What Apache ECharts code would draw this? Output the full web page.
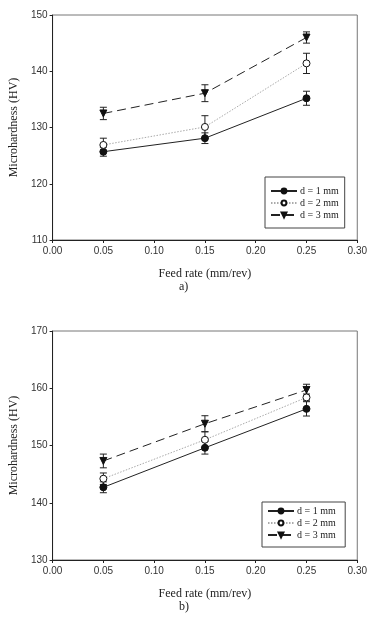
<!DOCTYPE html>
<html>
<head>
<meta charset="utf-8">
<script src="https://cdn.jsdelivr.net/npm/echarts@6/dist/echarts.min.js"></script>
<style>
html,body{margin:0;padding:0;background:#fff;}
#c{width:370px;height:618px;}
</style>
</head>
<body>
<div id="c"></div>
<script>
// ---- data ----
var feedRate = [0.05, 0.15, 0.25];
var seriesNames = ['d = 1 mm', 'd = 2 mm', 'd = 3 mm'];
var xTicks = [0.00, 0.05, 0.10, 0.15, 0.20, 0.25, 0.30];

// chart a)
var a_d1 = [125.7, 128.1, 135.2];
var a_d1_err = [0.8, 0.95, 1.25];
var a_d2 = [126.9, 130.1, 141.4];
var a_d2_err = [1.2, 2.0, 1.8];
var a_d3 = [132.5, 136.1, 146.0];
var a_d3_err = [1.1, 1.5, 1.0];
var a_yTicks = [110, 120, 130, 140, 150];

// chart b)
var b_d1 = [142.7, 149.6, 156.4];
var b_d1_err = [0.95, 1.1, 1.25];
var b_d2 = [144.2, 151.0, 158.4];
var b_d2_err = [1.0, 1.4, 0.6];
var b_d3 = [147.3, 153.8, 159.7];
var b_d3_err = [1.2, 1.4, 1.0];
var b_yTicks = [130, 140, 150, 160, 170];

var panelLabels = ['a)', 'b)'];
var xTitle = 'Feed rate (mm/rev)';
var yTitle = 'Microhardness (HV)';

// ---- styles ----
var serif = "'Liberation Serif', 'DejaVu Serif', serif";
var sans = "'Liberation Sans', Arial, sans-serif";
var styles = [
  {line: {type: 'solid', width: 1, color: '#222'}, symbol: 'circle', fill: '#111', rotate: 0, size: 7},
  {line: {type: [1.5, 1.5], width: 1, color: '#aaa'}, symbol: 'circle', fill: '#fff', rotate: 0, size: 7},
  {line: {type: [9, 5], width: 1, color: '#222'}, symbol: 'triangle', fill: '#111', rotate: 180, size: 7}
];

function pairs(vals) {
  return feedRate.map(function (x, i) { return [x, vals[i]]; });
}
function errData(vals, errs) {
  return feedRate.map(function (x, i) { return [x, vals[i] - errs[i], vals[i] + errs[i]]; });
}
function errRender(params, api) {
  var x = api.value(0);
  var lo = api.coord([x, api.value(1)]);
  var hi = api.coord([x, api.value(2)]);
  var w = 3.5;
  var st = {stroke: '#222', lineWidth: 1};
  return {
    type: 'group',
    children: [
      {type: 'line', shape: {x1: lo[0], y1: lo[1], x2: hi[0], y2: hi[1]}, style: st},
      {type: 'line', shape: {x1: lo[0] - w, y1: lo[1], x2: lo[0] + w, y2: lo[1]}, style: st},
      {type: 'line', shape: {x1: hi[0] - w, y1: hi[1], x2: hi[0] + w, y2: hi[1]}, style: st}
    ]
  };
}

var grids = [
  {left: 49, top: 15, width: 311, height: 225},
  {left: 49, top: 331, width: 311, height: 229}
];
var yTickSets = [a_yTicks, b_yTicks];
var panelData = [
  [[a_d1, a_d1_err], [a_d2, a_d2_err], [a_d3, a_d3_err]],
  [[b_d1, b_d1_err], [b_d2, b_d2_err], [b_d3, b_d3_err]]
];

var option = {
  backgroundColor: '#fff',
  animation: false,
  grid: grids.map(function (g) {
    return Object.assign({show: true, borderColor: '#777', borderWidth: 1, backgroundColor: 'transparent'}, g);
  }),
  xAxis: grids.map(function (g, k) {
    return {
      type: 'value', gridIndex: k,
      min: xTicks[0], max: xTicks[xTicks.length - 1], interval: 0.05,
      name: xTitle, nameLocation: 'middle', nameGap: 28,
      nameTextStyle: {fontFamily: serif, fontSize: 12, color: '#222'},
      axisLine: {show: true, lineStyle: {color: '#222', width: 1}},
      axisTick: {show: true, length: 3, inside: false, lineStyle: {color: '#222'}},
      axisLabel: {fontFamily: sans, fontSize: 10, color: '#333', margin: 6,
        formatter: function (v) { return v.toFixed(2); }},
      splitLine: {show: false}
    };
  }),
  yAxis: grids.map(function (g, k) {
    var t = yTickSets[k];
    return {
      type: 'value', gridIndex: k,
      min: t[0], max: t[t.length - 1], interval: 10,
      name: yTitle, nameLocation: 'middle', nameGap: 27,
      nameTextStyle: {fontFamily: serif, fontSize: 12, color: '#222'},
      axisLine: {show: true, lineStyle: {color: '#222', width: 1}},
      axisTick: {show: true, length: 3, inside: false, lineStyle: {color: '#222'}},
      axisLabel: {fontFamily: sans, fontSize: 10, color: '#333', margin: 5},
      splitLine: {show: false}
    };
  }),
  legend: [0, 1].map(function (k) {
    var pos = k === 0
      ? {left: 265, top: 177, padding: [9, 6, 8, 5]}
      : {left: 262, top: 502, padding: [4, 7, 7, 5]};
    return Object.assign({
      orient: 'vertical',
      data: seriesNames.map(function (n) { return {name: n + (k === 1 ? ' ' : '')}; }),
      itemWidth: 26, itemHeight: 6, itemGap: 2,
      borderColor: '#444', borderWidth: 1,
      textStyle: {fontFamily: serif, fontSize: 10, color: '#222', padding: [0, 0, 0, -2]},
      selectedMode: false
    }, pos);
  }),
  graphic: [
    {type: 'text', left: 179, top: 281, style: {text: panelLabels[0], font: '12px ' + serif, fill: '#222'}},
    {type: 'text', left: 179, top: 601, style: {text: panelLabels[1], font: '12px ' + serif, fill: '#222'}}
  ],
  series: []
};

[0, 1].forEach(function (k) {
  panelData[k].forEach(function (d, i) {
    option.series.push({
      type: 'custom', xAxisIndex: k, yAxisIndex: k, silent: true,
      renderItem: errRender, data: errData(d[0], d[1]), z: 1,
      encode: {x: 0, y: [1, 2]}
    });
  });
  panelData[k].forEach(function (d, i) {
    var s = styles[i];
    option.series.push({
      type: 'line', name: seriesNames[i] + (k === 1 ? ' ' : ''),
      xAxisIndex: k, yAxisIndex: k,
      data: pairs(d[0]),
      symbol: s.symbol, symbolSize: s.size, symbolRotate: s.rotate, showSymbol: true,
      lineStyle: s.line,
      itemStyle: {color: s.fill, borderColor: '#111', borderWidth: 1},
      z: 3
    });
  });
});

var chart = echarts.init(document.getElementById('c'), null, {renderer: 'canvas'});
chart.setOption(option);
</script>
</body>
</html>
